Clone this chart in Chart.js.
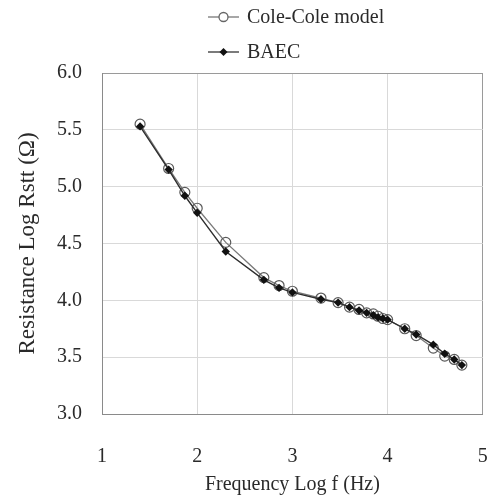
<!DOCTYPE html>
<html>
<head>
<meta charset="utf-8">
<script src="https://cdn.jsdelivr.net/npm/chart.js@4.4.1/dist/chart.umd.min.js"></script>
<style>
  html, body { margin: 0; padding: 0; background: #fff; overflow: hidden; }
  canvas { display: block; }
</style>
</head>
<body>
<canvas id="resChart" width="489" height="496"></canvas>
<script>
// log frequency (Hz)
let logFreq = [1.40, 1.70, 1.87, 2.00, 2.30, 2.70, 2.86, 3.00, 3.30, 3.48, 3.60, 3.70, 3.78, 3.85, 3.90, 3.95, 4.00, 4.18, 4.30, 4.48, 4.60, 4.70, 4.78];
// log Rstt, Cole-Cole model
let coleCole = [5.55, 5.16, 4.95, 4.81, 4.51, 4.20, 4.13, 4.08, 4.02, 3.98, 3.94, 3.92, 3.89, 3.88, 3.86, 3.84, 3.83, 3.75, 3.69, 3.58, 3.51, 3.48, 3.43];
// log Rstt, BAEC
let baec = [5.53, 5.15, 4.92, 4.77, 4.43, 4.18, 4.11, 4.07, 4.01, 3.98, 3.94, 3.91, 3.89, 3.87, 3.85, 3.84, 3.83, 3.75, 3.70, 3.61, 3.53, 3.48, 3.43];
let xTicks = [1, 2, 3, 4, 5];
let yTicks = [3.0, 3.5, 4.0, 4.5, 5.0, 5.5, 6.0];
let seriesNames = ['Cole-Cole model', 'BAEC'];

const serif = "'Liberation Serif', 'Times New Roman', serif";
const txtColor = '#2a2a2a';

function toPoints(ys) {
    let pts = [];
    for (let i = 0; i < logFreq.length; i++) {
        pts.push({x: logFreq[i], y: ys[i]});
    }
    return pts;
}

// legend stacked in two rows above the plot
const legendRows = {
    id: 'legendRows',
    afterDraw(chart) {
        const ctx = chart.ctx;
        ctx.save();
        ctx.font = '20px ' + serif;
        ctx.textBaseline = 'middle';
        ctx.fillStyle = txtColor;
        let rows = [17, 52];
        for (let i = 0; i < seriesNames.length; i++) {
            let y = rows[i];
            ctx.strokeStyle = i == 0 ? '#777' : '#333';
            ctx.lineWidth = 1.3;
            ctx.beginPath();
            ctx.moveTo(208, y);
            ctx.lineTo(239, y);
            ctx.stroke();
            if (i == 0) {
                ctx.fillStyle = '#fff';
                ctx.strokeStyle = '#666';
                ctx.beginPath();
                ctx.arc(223.5, y, 4.5, 0, Math.PI * 2);
                ctx.fill();
                ctx.stroke();
            } else {
                ctx.fillStyle = '#111';
                ctx.beginPath();
                ctx.moveTo(223.5, y - 4);
                ctx.lineTo(227.5, y);
                ctx.lineTo(223.5, y + 4);
                ctx.lineTo(219.5, y);
                ctx.closePath();
                ctx.fill();
            }
            ctx.fillStyle = txtColor;
            ctx.fillText(seriesNames[i], 247, y + 1);
        }
        ctx.restore();
    }
};

function gridColor(c) {
    if (c.tick && (c.index == 0 || c.index == c.scale.ticks.length - 1)) return '#9a9a9a';
    return '#d9d9d9';
}

let cx = document.getElementById('resChart').getContext('2d');

let chartData = {
    datasets: [{
        label: seriesNames[0],
        data: toPoints(coleCole),
        order: 1,
        borderColor: '#7a7a7a',
        borderWidth: 1.3,
        pointStyle: 'circle',
        pointRadius: 5,
        pointBorderColor: '#5a5a5a',
        pointBorderWidth: 1.2,
        pointBackgroundColor: 'rgba(255,255,255,0)',
        tension: 0
    }, {
        label: seriesNames[1],
        data: toPoints(baec),
        order: 0,
        borderColor: '#2e2e2e',
        borderWidth: 1.4,
        pointStyle: 'rectRot',
        pointRadius: 4.2,
        pointBorderWidth: 0,
        pointBackgroundColor: '#111',
        tension: 0
    }]
};

let chartOptions = {
    responsive: false,
    animation: false,
    events: [],
    layout: { padding: { top: 73, left: 0, right: 5, bottom: 0 } },
    plugins: {
        legend: { display: false },
        tooltip: { enabled: false }
    },
    scales: {
        x: {
            type: 'linear',
            min: xTicks[0],
            max: xTicks[xTicks.length - 1],
            afterBuildTicks: function(s) { s.ticks = xTicks.map(v => ({value: v})); },
            afterFit: function(s) {
                s.height = 82;
                // tick padding should not widen the sides
                s.paddingLeft = 0;
                s.paddingRight = 0;
            },
            grid: { color: gridColor, lineWidth: 1, drawTicks: false },
            border: { color: '#8a8a8a', width: 1 },
            ticks: {
                padding: 31,
                color: txtColor,
                font: { family: serif, size: 20 },
                maxRotation: 0
            },
            title: {
                display: true,
                text: 'Frequency Log f (Hz)',
                color: txtColor,
                font: { family: serif, size: 20, lineHeight: 1 },
                padding: { top: 0, bottom: 1 }
            }
        },
        y: {
            type: 'linear',
            min: yTicks[0],
            max: yTicks[yTicks.length - 1],
            afterBuildTicks: function(s) { s.ticks = yTicks.map(v => ({value: v})); },
            afterFit: function(s) { s.width = 102; },
            grid: { color: gridColor, lineWidth: 1, drawTicks: false },
            border: { color: '#8a8a8a', width: 1 },
            ticks: {
                padding: 20,
                color: txtColor,
                font: { family: serif, size: 20 },
                callback: function(v) { return Number(v).toFixed(1); }
            },
            title: {
                display: true,
                text: 'Resistance Log Rstt (Ω)',
                color: txtColor,
                font: { family: serif, size: 23, lineHeight: 1.2 },
                padding: { top: 14, bottom: 0 }
            }
        }
    }
};

let resChart = new Chart(cx, {
    type: 'line',
    data: chartData,
    options: chartOptions,
    plugins: [legendRows]
});
</script>
</body>
</html>
